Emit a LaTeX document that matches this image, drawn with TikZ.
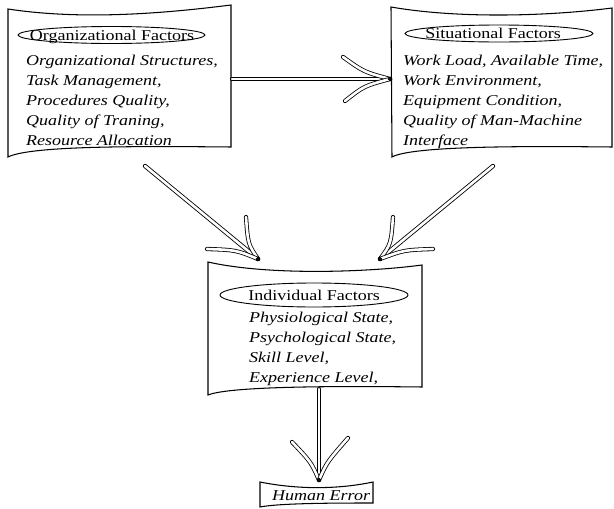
\documentclass[tikz,border=0pt]{standalone}
\usepackage{fontspec}
\setmainfont{Liberation Serif}[FakeStretch=1.2]
\begin{document}
\begin{tikzpicture}[x=1pt,y=-1pt,
  box/.style={draw=black, line width=1.05pt, fill=white},
  oval/.style={draw=black, line width=0.9pt},
  body/.style={anchor=north west, inner sep=0pt, align=left, font=\fontsize{15}{20}\selectfont\itshape},
  lbl/.style={anchor=base, inner sep=0pt, font=\fontsize{15}{18}\selectfont},
  shaft/.style={draw=black, line width=0.85pt, double=white, double distance=2.6pt, line cap=round},
  barb/.style={draw=black, line width=0.8pt, double=white, double distance=2.6pt, line cap=round},
  knot/.style={draw=black, fill=black!80, line width=1pt}]
\useasboundingbox (0,0) rectangle (614,509);
% boxes
\draw[box] (8,9) .. controls (80,20) and (160,14) .. (231,5) -- (231,147) .. controls (130,146) and (30,146) .. (8,157) -- cycle;
\draw[box] (391,7) .. controls (460,19) and (550,16) .. (612,8) -- (612,147) .. controls (520,146) and (412,146) .. (392,157) -- cycle;
\draw[box] (208,262) .. controls (270,276) and (370,272) .. (422,265) -- (422,387) .. controls (340,386) and (230,386) .. (208,395) -- cycle;
\draw[box] (260,482) .. controls (300,490) and (340,489) .. (373,482) -- (373,503) .. controls (340,503) and (280,503) .. (260,507) -- cycle;
% labels
\draw[oval] (111.5,35) ellipse [x radius=93.5pt, y radius=8.5pt];
\node[lbl] (orglbl) at (112,40) {Organizational Factors};
\draw[oval] (499,33.5) ellipse [x radius=94pt, y radius=8.5pt];
\node[lbl] (sitlbl) at (493,38.5) {Situational Factors};
\draw[oval] (314,295) ellipse [x radius=94pt, y radius=12pt];
\node[lbl] (indlbl) at (314,300) {Individual Factors};
% texts
\node[body] (orgtxt) at (26,55) {Organizational Structures,\\Task Management,\\Procedures Quality,\\Quality of Traning,\\Resource Allocation};
\node[body] (sittxt) at (403,55) {Work Load, Available Time,\\Work Environment,\\Equipment Condition,\\Quality of Man-Machine\\Interface};
\node[body] (indtxt) at (249,312) {Physiological State,\\Psychological State,\\Skill Level,\\Experience Level,};
\node[body] (hetxt) at (272,490) {Human Error};
% arrows
\coordinate (h0) at (232,79); \coordinate (h1) at (390,79);
\coordinate (l0) at (145,166); \coordinate (l1) at (258,259);
\coordinate (r0) at (493,166); \coordinate (r1) at (380,259);
\coordinate (v0) at (319,389); \coordinate (v1) at (319,480);
\draw[shaft] (h0) -- (h1);
\draw[barb] (343,57) .. controls (364,72) .. (h1);
\draw[barb] (345,101) .. controls (364,86) .. (h1);
\draw[knot] (h1) circle [radius=1.7pt];
\draw[shaft] (l0) -- (l1);
\draw[barb] (246,217) .. controls (248,244) .. (l1);
\draw[barb] (207,249) .. controls (236,250) .. (l1);
\draw[knot] (l1) circle [radius=1.7pt];
\draw[shaft] (r0) -- (r1);
\draw[barb] (393,217) .. controls (391,244) .. (r1);
\draw[barb] (433,249) .. controls (404,250) .. (r1);
\draw[knot] (r1) circle [radius=1.7pt];
\draw[shaft] (v0) -- (v1);
\draw[barb] (292,442) .. controls (311,462) .. (v1);
\draw[barb] (348,438) .. controls (327,462) .. (v1);
\draw[knot] (v1) circle [radius=1.7pt];
\end{tikzpicture}
\end{document}
